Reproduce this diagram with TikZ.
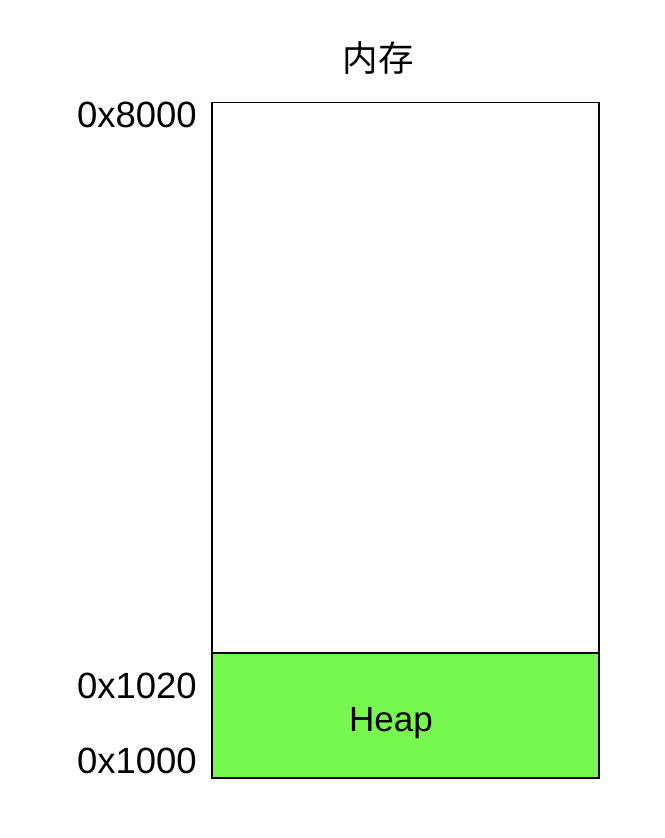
\documentclass[tikz,border=0pt]{standalone}
\usepackage{fontspec}
\setmainfont{Liberation Sans}
\newfontfamily\cjk{Noto Sans CJK SC}
\definecolor{heapgreen}{RGB}{119,248,80}
\begin{document}
\begin{tikzpicture}[x=1pt,y=-1pt,
  addr/.style={anchor=base east,inner sep=0pt,font=\fontsize{36.5}{40}\selectfont},
  lbl/.style={anchor=base,inner sep=0pt,font=\fontsize{35}{40}\selectfont},
  box/.style={draw=black,line width=1.8pt}]
\useasboundingbox (0,0) rectangle (664,838);
\fill[white] (0,0) rectangle (664,838);
\draw[box,fill=white] (212,102.5) rectangle (599,653);
\draw[box,fill=heapgreen] (212,653) rectangle (599,778);
\node[lbl,font=\cjk\fontsize{35.5}{40}\selectfont] (title) at (378,71) {内存};
\node[addr] (a8000) at (197,127.3) {0x8000};
\node[addr] (a1020) at (197,698.3) {0x1020};
\node[addr] (a1000) at (197,773.3) {0x1000};
\node[lbl] (heap) at (391,731.7) {Heap};
\end{tikzpicture}
\end{document}
